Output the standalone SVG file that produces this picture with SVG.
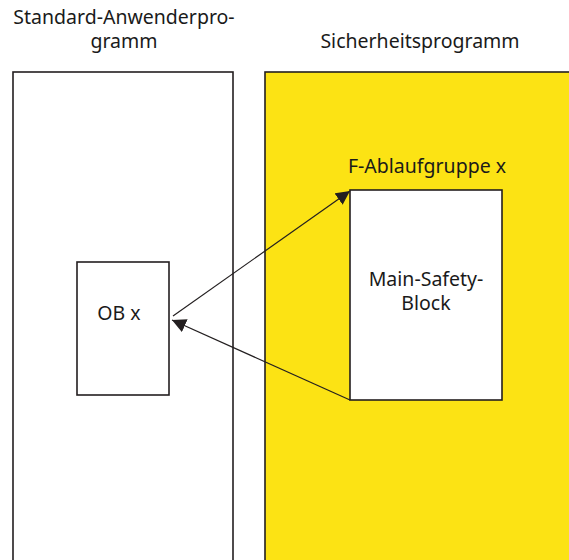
<svg xmlns="http://www.w3.org/2000/svg" width="569" height="560" viewBox="0 0 569 560">
<style>
.t{font-family:"Noto Sans","Open Sans","Liberation Sans",sans-serif;font-size:19.5px;fill:#1a1a1a;text-anchor:middle}
.b{stroke:#231f20;stroke-width:1.6}
.c{stroke:#231f20;stroke-width:1.2;fill:none}
</style>
<defs>
<marker id="ah" viewBox="0 0 10 10" refX="10" refY="5" markerWidth="14" markerHeight="14" markerUnits="userSpaceOnUse" orient="auto">
<path d="M0,0 L10,5 L0,10 z" fill="#231f20"/>
</marker>
</defs>
<g id="standard">
<rect class="b" x="13" y="72" width="220" height="500" fill="#fff"/>
<text class="t" x="124" y="24">Standard-Anwenderpro-</text>
<text class="t" x="124" y="48">gramm</text>
</g>
<g id="sicherheit">
<rect class="b" x="265" y="72" width="320" height="500" fill="#fce314"/>
<text class="t" x="420" y="48">Sicherheitsprogramm</text>
</g>
<g id="fablauf">
<text class="t" x="427" y="173">F-Ablaufgruppe x</text>
</g>
<g id="obx">
<rect class="b" x="77" y="262" width="92" height="133" fill="#fff"/>
<text class="t" x="119" y="320">OB x</text>
</g>
<g id="msb">
<rect class="b" x="350" y="190" width="152" height="210" fill="#fff"/>
<text class="t" x="426" y="286">Main-Safety-</text>
<text class="t" x="426" y="310">Block</text>
</g>
<g id="connectors">
<line class="c" x1="173" y1="316" x2="350" y2="191" marker-end="url(#ah)"/>
<line class="c" x1="350" y1="400" x2="172" y2="320" marker-end="url(#ah)"/>
</g>
</svg>
